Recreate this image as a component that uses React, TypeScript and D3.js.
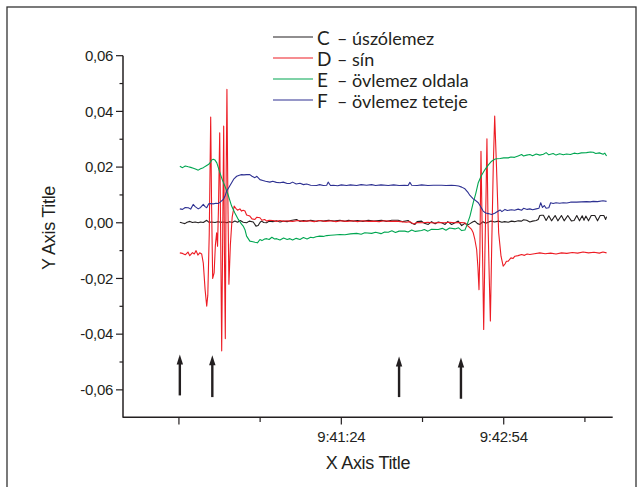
import React from 'react';
import * as d3 from 'd3';

// time in seconds after 9:39:54, strain values
const seriesNames = ['C', 'D', 'E', 'F'];
const seriesLabels = ['– úszólemez', '– sín', '– övlemez oldala', '– övlemez teteje'];
const seriesColors = ['#231f20', '#ed1c24', '#00a651', '#2e3192'];

const dataC: [number, number][] = [
  [0.5, 0.0002], [2, -0.0001], [3.3, -0.0003], [4.5, 0.0002], [6.1, 0.0005], [7.5, 0.0001], [9, 0.0003], [10.7, 0],
  [12, 0.0003], [13.5, 0.0001], [15.4, 0.0009], [16.5, 0.0002], [18.1, 0.0003], [20, 0.0001], [21.5, 0.0004], [23, 0.0002],
  [25, 0.0003], [26.5, 0], [28, 0.0004], [29.5, 0.0001], [31, 0.0006], [32.5, 0.0002], [34, 0.0008], [35.6, 0.0002],
  [37.5, 0], [39, 0.0006], [41.2, 0.0003], [42.7, -0.0012], [43.9, -0.001], [45, 0.0002], [45.8, 0.0006], [47, 0.0001],
  [48.6, 0], [50, 0.0006], [52.1, 0.0004], [54, 0.0007], [56, 0.0003], [57.8, 0.0006], [60, 0.0004], [62, 0.0008],
  [65.2, 0.0012], [67, 0.0005], [69, 0.0008], [70.8, 0.0006], [73, 0.0009], [76, 0.0005], [78, 0.0008], [80, 0.0006],
  [83, 0.0009], [86, 0.0006], [89.2, 0.0009], [92, 0.0005], [94, 0.0009], [96.6, 0.0006], [99, 0.0008], [102, 0.0005],
  [105, 0.0009], [108, 0.0006], [112.3, 0.0009], [115, 0.0005], [118, 0.0009], [121.5, 0.0009], [124, 0.0004], [127, 0.0008],
  [129, -0.0002], [130.8, -0.0006], [132, 0.0004], [134.5, 0.0006], [136, -0.0002], [138.2, -0.0006], [140, 0.0004], [142, -0.0004],
  [143.7, 0.0003], [145.6, 0], [147.5, -0.0006], [149, 0.0004], [151.1, -0.0006], [153, 0], [154.8, 0.0006], [156.7, -0.001],
  [158.5, -0.0002], [160, -0.0008], [161.3, -0.0003], [163, 0.0004], [164, 0.0006], [165.5, -0.0003], [166.8, -0.0006], [168.5, 0.0004],
  [170, -0.0002], [171.4, 0.0002], [173, 0.0006], [175, 0.0003], [177, 0.0006], [179, 0.0002], [180.5, 0.0004], [182.5, 0.0002],
  [184.3, 0.0006], [186, 0.0004], [188, 0.0007], [189.9, 0.0006], [191, 0.0011], [192.7, 0.0009], [194.5, 0.0003], [196, 0.0006],
  [198, 0.0008], [199.1, 0.0012], [200, 0.0026], [201, 0.0027], [202, 0.0027], [203.5, 0.0008], [205, 0.0025], [206.5, 0.0007],
  [208.5, 0.0026], [210, 0.0007], [212, 0.0026], [213.5, 0.0007], [215.5, 0.0026], [217.5, 0.0007], [219, 0.0008], [220.5, 0.0026],
  [222, 0.0007], [223.5, 0.0025], [224.5, 0.0009], [225.5, 0.0024], [227, 0.0007], [228.5, 0.0026], [230.5, 0.0026], [232, 0.0007],
  [233.5, 0.0026], [235.5, 0.0026], [236.5, 0.0012], [237, 0.0022],
];

const dataD: [number, number][] = [
  [0.5, -0.0108], [2, -0.011], [3.5, -0.0115], [5, -0.0105], [6, -0.0118], [7.5, -0.0107], [8.5, -0.0112], [9.5, -0.01],
  [10.5, -0.0116], [11.5, -0.0108], [12.6, -0.0112], [13.5, -0.0145], [14.5, -0.024], [15.4, -0.03], [16, -0.026], [16.8, -0.004],
  [17.6, 0.038], [18.1, 0.006], [18.7, -0.02], [19.5, -0.018], [20.2, -0.008], [20.9, -0.0036], [21.4, -0.0084], [21.9, 0.005],
  [22.6, 0.0323], [23.2, -0.01], [23.7, -0.046], [24.3, 0], [24.8, 0.0347], [25.2, -0.01], [25.7, -0.0416], [26.1, 0.01],
  [26.6, 0.0479], [27.1, 0.01], [27.7, -0.0221], [28.5, -0.008], [29.5, 0.002], [30.6, 0.006], [31.5, 0.0052], [32.5, 0.0045],
  [33.8, 0.005], [34.7, 0.0042], [35.6, 0.0045], [36.6, 0.0042], [37.5, 0.0028], [39.3, 0.0024], [40.5, 0.0014], [42.1, 0.0012],
  [43.2, 0.002], [44.9, 0.0018], [46, 0.0009], [47.5, 0.0012], [48.6, 0.0006], [50, 0.0009], [52.1, 0.0008], [54, 0.0005],
  [56, 0.0008], [58, 0.0005], [60, 0.0007], [63, 0.0005], [66, 0.0008], [69, 0.0005], [72, 0.0007], [75, 0.0004],
  [78, 0.0008], [81, 0.0005], [84, 0.0007], [87, 0.0004], [90, 0.0007], [93, 0.0005], [96, 0.0007], [99, 0.0004],
  [102, 0.0007], [105, 0.0005], [108, 0.0006], [111, 0.0004], [114, 0.0007], [117, 0.0005], [120, 0.0006], [123, 0.0004],
  [126, 0.0002], [128, 0.0004], [130, -0.0004], [132, 0.0001], [135, 0], [138, 0.0002], [141, -0.0001], [144, 0.0001],
  [147, 0], [150, 0.0002], [153, 0], [156, 0.0001], [158.5, 0], [160.2, -0.0012], [161.3, -0.0018], [162.2, -0.0024],
  [163.1, -0.0036], [164, -0.006], [165, -0.0096], [165.7, -0.016], [166.3, -0.024], [166.8, -0.01], [167.4, 0.0257], [168, 0],
  [168.9, -0.0383], [169.6, -0.01], [170.2, 0.01], [170.7, 0.0302], [171.3, 0], [172, -0.02], [172.6, -0.0353], [173.3, -0.01],
  [174.2, 0.02], [175, 0.0383], [176, 0.02], [177.2, -0.0036], [178.5, -0.012], [179.7, -0.0156], [180.7, -0.0148], [181.5, -0.0138],
  [182.5, -0.0138], [184, -0.0126], [185.2, -0.0128], [186.2, -0.012], [188, -0.0118], [189.9, -0.0114], [191.5, -0.0117], [193, -0.0112],
  [194.5, -0.0114], [197, -0.0111], [200, -0.0108], [203, -0.0111], [206, -0.0109], [209, -0.0112], [212, -0.0108], [215, -0.011],
  [218, -0.0107], [221, -0.0109], [224, -0.0105], [227, -0.0108], [230, -0.0106], [233, -0.0109], [235, -0.0105], [237, -0.0108],
];

const dataE: [number, number][] = [
  [0.5, 0.0203], [2, 0.0198], [3.5, 0.0204], [5.2, 0.0201], [6.5, 0.0199], [8, 0.0196], [9.5, 0.0192], [10.7, 0.0189],
  [12, 0.0194], [13.5, 0.0198], [15.4, 0.0206], [16.5, 0.021], [17.5, 0.0218], [18.1, 0.0225], [19, 0.0228], [20, 0.0225],
  [21, 0.0215], [22.7, 0.018], [24, 0.0155], [25.5, 0.0131], [27, 0.0105], [29.2, 0.006], [31, 0.0035], [32.9, 0.0012],
  [34.7, -0.0005], [35.6, -0.0012], [36.6, -0.0025], [37.5, -0.0048], [39.3, -0.0066], [41, -0.0068], [42.1, -0.007], [43.5, -0.0072],
  [44.9, -0.006], [46, -0.0064], [47.5, -0.0058], [48.6, -0.0057], [50, -0.006], [51.5, -0.0052], [53, -0.0058], [54.1, -0.0057],
  [56, -0.0062], [58, -0.0055], [60, -0.006], [61.5, -0.0057], [63, -0.0062], [65, -0.0056], [67.1, -0.006], [69, -0.0053],
  [71, -0.0058], [73, -0.0052], [74.4, -0.0054], [76, -0.005], [78, -0.0048], [80, -0.0049], [81.9, -0.0046], [84, -0.0045],
  [86, -0.0044], [89.2, -0.0042], [92, -0.0043], [95, -0.004], [98.5, -0.0038], [101, -0.0041], [103, -0.0036], [106.8, -0.0038],
  [109, -0.0034], [112, -0.0039], [114, -0.0033], [116, -0.0034], [118, -0.0029], [120, -0.0035], [122, -0.003], [125.2, -0.003],
  [127, -0.0033], [129, -0.0026], [131, -0.0031], [134.5, -0.0028], [136, -0.0024], [138, -0.003], [140, -0.0023], [143.7, -0.0024],
  [146, -0.002], [148, -0.0027], [150, -0.0019], [153, -0.0022], [155, -0.0018], [156.7, -0.0028], [158.5, -0.0026], [159.4, -0.0012],
  [160.3, 0.0005], [161.3, 0.0024], [162.2, 0.0048], [163.1, 0.0072], [164.5, 0.0105], [165.9, 0.0144], [167.5, 0.0168], [169.6, 0.0191],
  [171.5, 0.0208], [173.3, 0.0221], [175, 0.0228], [176.1, 0.023], [178, 0.0231], [180, 0.0233], [182.5, 0.0233], [184, 0.0236],
  [186, 0.0235], [188, 0.024], [189.9, 0.0245], [191, 0.024], [192.7, 0.0243], [194.5, 0.0245], [196, 0.0241], [198, 0.0247],
  [200, 0.0243], [202, 0.0246], [203.5, 0.0252], [205, 0.0244], [207.4, 0.0249], [209, 0.0243], [211, 0.0248], [213, 0.0244],
  [214.8, 0.0247], [217, 0.0245], [219, 0.025], [221, 0.0248], [223, 0.0251], [225.9, 0.0252], [228, 0.0254], [229.6, 0.0253],
  [231, 0.0249], [233, 0.0251], [235.1, 0.0246], [236, 0.025], [237, 0.024],
];

const dataF: [number, number][] = [
  [0.5, 0.005], [2, 0.0048], [3.5, 0.0055], [5.2, 0.0054], [6.5, 0.0049], [7.9, 0.0066], [9, 0.0058], [10.7, 0.005],
  [12, 0.0055], [13.5, 0.0066], [14.5, 0.0058], [15.4, 0.0054], [16.5, 0.0068], [17.2, 0.0069], [19, 0.0068], [20.5, 0.007],
  [21.8, 0.0069], [23, 0.0075], [24.6, 0.0084], [25.5, 0.0095], [26.4, 0.0113], [27.5, 0.0125], [29.2, 0.0144], [30.5, 0.0158],
  [32, 0.0167], [33.5, 0.0171], [34.7, 0.0173], [36, 0.0172], [37.5, 0.0173], [39.3, 0.0173], [40.5, 0.0167], [42.1, 0.0162],
  [43.2, 0.0167], [44.9, 0.0155], [46.5, 0.0152], [48, 0.0149], [50.4, 0.0146], [52, 0.0149], [54, 0.0145], [56, 0.0144],
  [57.8, 0.0146], [60, 0.0141], [61.5, 0.0141], [63, 0.0146], [65, 0.0139], [67.1, 0.0142], [69, 0.0137], [70.8, 0.0139],
  [73, 0.0135], [76.3, 0.0134], [78, 0.0137], [80, 0.0134], [81.9, 0.0135], [82.7, 0.0146], [84, 0.0134], [85.5, 0.0135],
  [88, 0.0133], [90, 0.0136], [92.9, 0.0134], [95, 0.0136], [98.5, 0.0134], [101, 0.0137], [104, 0.0135], [106.8, 0.0137],
  [109, 0.0134], [112, 0.0136], [116, 0.0134], [119, 0.0136], [122, 0.0134], [125, 0.0135], [127, 0.0134], [128, 0.0145],
  [129, 0.0135], [132, 0.0134], [134.5, 0.0136], [138, 0.0134], [141, 0.0135], [145.6, 0.0135], [148, 0.0134], [151, 0.0135],
  [153, 0.0134], [155, 0.0132], [156.7, 0.0128], [158.5, 0.0122], [160.3, 0.0108], [161.3, 0.0098], [162.2, 0.0092], [163.1, 0.0086],
  [164, 0.0082], [165.9, 0.0072], [167.5, 0.0055], [168.6, 0.0042], [170, 0.0035], [171.5, 0.0033], [173.3, 0.003], [175, 0.0034],
  [177, 0.0042], [178, 0.0046], [179, 0.004], [180.7, 0.0048], [182, 0.0044], [184.3, 0.0047], [186, 0.0045], [188, 0.0049],
  [189.9, 0.0045], [191, 0.0052], [193, 0.0048], [194.5, 0.005], [196, 0.0047], [198, 0.005], [199.5, 0.0052], [200.5, 0.0072],
  [201.5, 0.0055], [202.5, 0.0062], [203.5, 0.0052], [205, 0.0054], [206, 0.0072], [207.4, 0.0069], [209, 0.0072], [211, 0.007],
  [213, 0.0072], [215, 0.0071], [217, 0.0074], [220.4, 0.0074], [223, 0.0075], [225.9, 0.0076], [228, 0.0075], [229.6, 0.0077],
  [232, 0.0076], [235, 0.0079], [237, 0.0077],
];

const allSeries = [dataC, dataD, dataE, dataF];

// arrows marking events (time, tip value, tail value)
const arrowTimes = [0.5, 18.5, 122, 156.3];
const arrowTips = [-0.0473, -0.0476, -0.048, -0.0484];
const arrowTails = [-0.062, -0.0626, -0.0626, -0.0632];

const xMajorTicks = [0, 90, 180];
const xMajorLabels = ['', '9:41:24', '9:42:54'];
const xMinorTicks = [45, 135, 225];
const yMajorTicks = [-0.06, -0.04, -0.02, 0, 0.02, 0.04, 0.06];
const yMinorTicks = [-0.05, -0.03, -0.01, 0.01, 0.03, 0.05];

const huLocale = d3.formatLocale({ decimal: ',', thousands: '.', grouping: [3], currency: ['', ''], minus: '-' });
const yFmt = huLocale.format('.2f');

export default function App() {
  const x = d3.scaleLinear().domain([-31, 240.4]).range([123, 612.7]);
  const y = d3.scaleLinear().domain([-0.07, 0.06]).range([417.7, 55.7]);
  const line = d3.line<[number, number]>().x(d => x(d[0])).y(d => y(d[1]));
  const axisColor = '#231f20';
  const tickFont = { fontFamily: '"Liberation Sans", Arial, sans-serif', fontSize: 15, letterSpacing: -0.3 };
  const legendFont = { fontFamily: 'Lato, "Noto Sans", sans-serif', fontSize: 18 };

  return (
    <svg width={639} height={487} style={{ position: 'absolute', left: 0, top: 0, background: '#fff' }}>
      <rect x={7} y={7} width={629} height={495} fill="#fff" stroke="#333" strokeWidth={1.3} />

      {/* series */}
      {allSeries.map((s, i) => (
        <path key={i} d={line(s) || ''} fill="none" stroke={seriesColors[i]} strokeWidth={1.1} strokeLinejoin="round" />
      ))}

      {/* arrows */}
      {arrowTimes.map((t, i) => {
        const ax = x(t), tip = y(arrowTips[i]), tail = y(arrowTails[i]);
        return (
          <g key={i} fill={axisColor} stroke={axisColor}>
            <line x1={ax} x2={ax} y1={tip + 8} y2={tail} strokeWidth={2.4} />
            <path d={`M${ax},${tip}L${ax - 3.2},${tip + 10}L${ax + 3.2},${tip + 10}Z`} stroke="none" />
          </g>
        );
      })}

      {/* y axis */}
      <line x1={123} x2={123} y1={y(0.06)} y2={y(-0.07)} stroke={axisColor} strokeWidth={1.5} />
      {yMajorTicks.map(v => (
        <g key={v}>
          <line x1={116} x2={123} y1={y(v)} y2={y(v)} stroke={axisColor} strokeWidth={1.2} />
          <text x={113} y={y(v)} dy="0.35em" textAnchor="end" fill={axisColor} style={tickFont}>{yFmt(v)}</text>
        </g>
      ))}
      {yMinorTicks.map(v => (
        <line key={v} x1={119.5} x2={123} y1={y(v)} y2={y(v)} stroke={axisColor} strokeWidth={1.2} />
      ))}

      {/* x axis */}
      <line x1={123} x2={612.7} y1={417.3} y2={417.3} stroke={axisColor} strokeWidth={1.5} />
      {xMajorTicks.map((t, i) => (
        <g key={t}>
          <line x1={x(t)} x2={x(t)} y1={417.3} y2={424.5} stroke={axisColor} strokeWidth={1.2} />
          <text x={x(t)} y={441.5} textAnchor="middle" fill={axisColor} style={tickFont}>{xMajorLabels[i]}</text>
        </g>
      ))}
      {xMinorTicks.map(t => (
        <line key={t} x1={x(t)} x2={x(t)} y1={417.3} y2={422} stroke={axisColor} strokeWidth={1.2} />
      ))}

      {/* axis titles */}
      <text x={368} y={469} textAnchor="middle" fill={axisColor}
        style={{ fontFamily: '"Liberation Sans", Arial, sans-serif', fontSize: 18, letterSpacing: -0.3 }}>X Axis Title</text>
      <text transform="translate(55,228) rotate(-90)" textAnchor="middle" fill={axisColor}
        style={{ fontFamily: '"Liberation Sans", Arial, sans-serif', fontSize: 18, letterSpacing: -0.3 }}>Y Axis Title</text>

      {/* legend */}
      {seriesNames.map((n, i) => {
        const base = 44.5 + i * 21;
        return (
          <g key={n}>
            <line x1={273} x2={313} y1={base - 7.5} y2={base - 7.5} stroke={seriesColors[i]} strokeWidth={1.1} />
            <text x={317} y={base} fill={axisColor} style={{ ...legendFont, fontSize: 19 }}>{n}</text>
            <text x={337} y={base} fill={axisColor} style={legendFont}>{seriesLabels[i]}</text>
          </g>
        );
      })}
    </svg>
  );
}
